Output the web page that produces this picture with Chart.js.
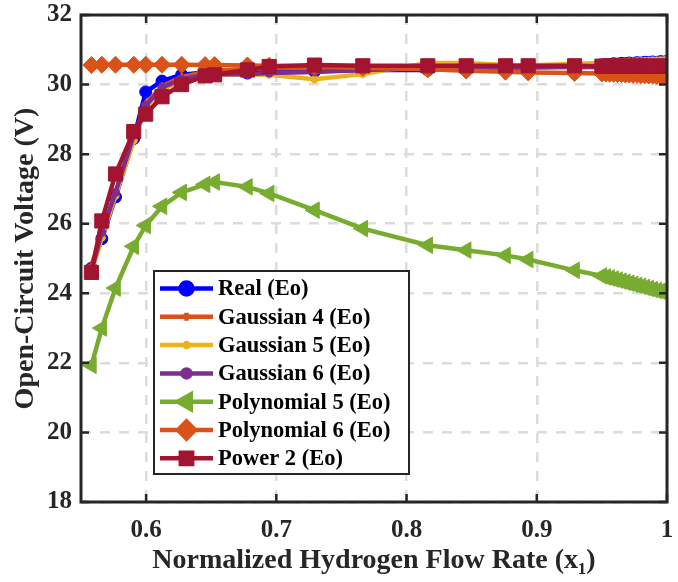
<!DOCTYPE html>
<html>
<head>
<meta charset="utf-8">
<script src="https://cdn.jsdelivr.net/npm/chart.js@4.4.1/dist/chart.umd.min.js"></script>
<style>
  body { margin: 0; background: #fff; }
  canvas { display: block; }
</style>
</head>
<body>
<canvas id="myChart" width="678" height="582"></canvas>
<script>
// normalized hydrogen flow rate, shared by all curves
let flowRate = [0.558, 0.566, 0.5765, 0.5905, 0.5997, 0.6122, 0.6273, 0.6453, 0.6526, 0.6778,
  0.6945, 0.7293, 0.7664, 0.8163, 0.8458, 0.876, 0.8934, 0.929,
  0.950, 0.953, 0.956, 0.959, 0.962, 0.965, 0.968, 0.971, 0.974, 0.977,
  0.980, 0.983, 0.986, 0.989, 0.992, 0.995, 0.998, 1.0];

let realEo = [24.72, 25.57, 26.77, 28.45, 29.79, 30.10, 30.28, 30.35, 30.38, 30.33,
  30.45, 30.38, 30.42, 30.42, 30.50, 30.48, 30.50, 30.52,
  30.56, 30.58, 30.57, 30.60, 30.59, 30.61, 30.60, 30.62, 30.61, 30.63,
  30.62, 30.64, 30.63, 30.65, 30.64, 30.66, 30.65, 30.66];
let gauss4Eo = [24.80, 25.70, 26.90, 28.40, 29.45, 29.95, 30.22, 30.36, 30.40, 30.45,
  30.47, 30.48, 30.49, 30.50, 30.50, 30.50, 30.50, 30.50,
  30.50, 30.50, 30.50, 30.50, 30.50, 30.50, 30.49, 30.49, 30.49, 30.49,
  30.48, 30.48, 30.48, 30.48, 30.47, 30.47, 30.47, 30.47];
let gauss5Eo = [24.60, 25.60, 26.80, 28.40, 29.35, 29.85, 30.12, 30.25, 30.28, 30.30,
  30.28, 30.15, 30.30, 30.62, 30.62, 30.56, 30.55, 30.60,
  30.62, 30.63, 30.63, 30.64, 30.64, 30.65, 30.65, 30.66, 30.66, 30.67,
  30.67, 30.68, 30.68, 30.69, 30.69, 30.70, 30.70, 30.71];
let gauss6Eo = [24.66, 25.75, 26.90, 28.55, 29.40, 29.92, 30.15, 30.28, 30.30, 30.30,
  30.33, 30.36, 30.42, 30.46, 30.48, 30.50, 30.50, 30.52,
  30.52, 30.52, 30.53, 30.53, 30.53, 30.54, 30.54, 30.54, 30.55, 30.55,
  30.55, 30.56, 30.56, 30.56, 30.57, 30.57, 30.57, 30.58];
let poly5Eo = [21.93, 23.00, 24.15, 25.35, 25.95, 26.50, 26.90, 27.13, 27.20, 27.06,
  26.87, 26.39, 25.86, 25.38, 25.24, 25.09, 24.97, 24.66,
  24.50, 24.47, 24.44, 24.41, 24.38, 24.35, 24.32, 24.29, 24.26, 24.23,
  24.20, 24.17, 24.14, 24.11, 24.08, 24.06, 24.03, 24.01];
let poly6Eo = [30.56, 30.57, 30.57, 30.57, 30.57, 30.57, 30.57, 30.56, 30.56, 30.55,
  30.54, 30.52, 30.48, 30.44, 30.40, 30.37, 30.35, 30.33,
  30.32, 30.32, 30.31, 30.31, 30.30, 30.30, 30.29, 30.29, 30.28, 30.28,
  30.27, 30.27, 30.26, 30.26, 30.25, 30.25, 30.24, 30.24];
let power2Eo = [24.60, 26.08, 27.43, 28.65, 29.15, 29.65, 30.00, 30.25, 30.28, 30.42,
  30.52, 30.56, 30.54, 30.54, 30.54, 30.54, 30.54, 30.54,
  30.53, 30.53, 30.53, 30.53, 30.53, 30.53, 30.53, 30.53, 30.53, 30.53,
  30.53, 30.53, 30.53, 30.53, 30.53, 30.53, 30.53, 30.53];

let seriesNames = ["Real (Eo)", "Gaussian 4 (Eo)", "Gaussian 5 (Eo)", "Gaussian 6 (Eo)",
  "Polynomial 5 (Eo)", "Polynomial 6 (Eo)", "Power 2 (Eo)"];
let seriesValues = [realEo, gauss4Eo, gauss5Eo, gauss6Eo, poly5Eo, poly6Eo, power2Eo];

let xTicks = [0.6, 0.7, 0.8, 0.9, 1.0];
let yTicks = [18, 20, 22, 24, 26, 28, 30, 32];

// look of each series
let styles = [
  { color: "#0000FF", marker: "circle", radius: 6, rot: 0 },
  { color: "#D95319", marker: "cross", radius: 4, rot: 0 },
  { color: "#EDB120", marker: "star", radius: 4, rot: 0 },
  { color: "#7E2F8E", marker: "circle", radius: 4, rot: 0 },
  { color: "#77AC30", marker: "triangle", radius: 9.5, rot: -90 },
  { color: "#D95319", marker: "rectRot", radius: 8.5, rot: 0 },
  { color: "#A2142F", marker: "rect", radius: 10, rot: 0 },
];

let serif = '"Liberation Serif", "Times New Roman", serif';
Chart.defaults.font.family = serif;
Chart.defaults.font.weight = "bold";
Chart.defaults.color = "#262626";

let datasets = seriesValues.map(function (vals, i) {
  let s = styles[i];
  return {
    label: seriesNames[i],
    data: vals.map((v, j) => ({ x: flowRate[j], y: v })),
    borderColor: s.color,
    backgroundColor: s.color,
    borderWidth: 4.5,
    pointStyle: s.marker,
    pointRadius: s.radius,
    pointRotation: s.rot,
    pointBackgroundColor: s.color,
    pointBorderColor: s.color,
    pointBorderWidth: s.marker == "cross" || s.marker == "star" ? 2.5 : 1,
    tension: 0,
    order: 6 - i,
  };
});

// box, inward ticks and the legend box inside the axes
let frameLegend = {
  id: "frameLegend",
  afterDraw(chart) {
    let ctx = chart.ctx;
    let a = chart.chartArea;
    let xs = chart.scales.x;
    let ys = chart.scales.y;
    ctx.save();
    ctx.strokeStyle = "#262626";
    ctx.lineWidth = 2.5;
    ctx.beginPath();
    xTicks.forEach(function (v) {
      let px = xs.getPixelForValue(v);
      ctx.moveTo(px, a.bottom); ctx.lineTo(px, a.bottom - 8);
      ctx.moveTo(px, a.top); ctx.lineTo(px, a.top + 8);
    });
    yTicks.forEach(function (v) {
      let py = ys.getPixelForValue(v);
      ctx.moveTo(a.left, py); ctx.lineTo(a.left + 8, py);
      ctx.moveTo(a.right, py); ctx.lineTo(a.right - 8, py);
    });
    ctx.stroke();
    ctx.lineWidth = 3;
    ctx.strokeRect(a.left, a.top, a.right - a.left, a.bottom - a.top);

    // legend
    let bx = 154, by = 271, bw = 255, bh = 203;
    ctx.fillStyle = "#fff";
    ctx.fillRect(bx, by, bw, bh);
    ctx.lineWidth = 2;
    ctx.strokeStyle = "#262626";
    ctx.strokeRect(bx, by, bw, bh);
    ctx.font = "bold 22.5px " + serif;
    ctx.textAlign = "left";
    ctx.textBaseline = "middle";
    seriesNames.forEach(function (name, i) {
      let s = styles[i];
      let cy = 288.5 + i * 28.3;
      ctx.strokeStyle = s.color;
      ctx.fillStyle = s.color;
      ctx.lineWidth = 4.5;
      ctx.beginPath();
      ctx.moveTo(160, cy); ctx.lineTo(213, cy);
      ctx.stroke();
      Chart.helpers.drawPoint(ctx, {
        pointStyle: s.marker,
        radius: s.marker == "rect" ? 8 : Math.min(s.radius, 8.5),
        rotation: s.rot,
        borderWidth: s.marker == "cross" || s.marker == "star" ? 2.5 : 1,
      }, 186.5, cy);
      ctx.fillStyle = "#000";
      ctx.fillText(name, 218, cy + 1);
    });
    ctx.restore();
  },
};

let ctx = document.getElementById("myChart").getContext("2d");
let myChart = new Chart(ctx, {
  type: "line",
  data: { datasets: datasets },
  options: {
    responsive: false,
    animation: false,
    devicePixelRatio: 1,
    layout: { padding: { top: 15, right: 3, left: 0, bottom: 0 } },
    plugins: { legend: { display: false }, tooltip: { enabled: false } },
    scales: {
      x: {
        type: "linear",
        min: 0.55,
        max: 1.0,
        afterBuildTicks: (scale) => { scale.ticks = xTicks.map((v) => ({ value: v })); },
        afterFit: (scale) => { scale.height = 80; scale.paddingLeft = 0; scale.paddingRight = 0; },
        ticks: {
          font: { size: 25, weight: "bold" },
          padding: 14,
          maxRotation: 0,
          callback: (v) => (v === 1 ? "1" : v.toFixed(1)),
        },
        grid: { color: "#dcdcdc", lineWidth: 2.5, drawTicks: false },
        border: { display: false, dash: [10, 9] },
        title: {
          display: true,
          text: "Normalized Hydrogen Flow Rate (x\u2081)",
          font: { size: 28, weight: "bold" },
          padding: { top: 0, bottom: 4 },
        },
      },
      y: {
        min: 18,
        max: 32,
        afterBuildTicks: (scale) => { scale.ticks = yTicks.map((v) => ({ value: v })); },
        afterFit: (scale) => { scale.width = 81; scale.paddingTop = 0; scale.paddingBottom = 0; },
        ticks: { font: { size: 25, weight: "bold" }, padding: 9 },
        grid: { color: "#dcdcdc", lineWidth: 2.5, drawTicks: false },
        border: { display: false, dash: [10, 9] },
        title: {
          display: true,
          text: "Open-Circuit Voltage (V)",
          font: { size: 28, weight: "bold" },
          padding: { top: 9, bottom: 0 },
        },
      },
    },
  },
  plugins: [frameLegend],
});
</script>
</body>
</html>
